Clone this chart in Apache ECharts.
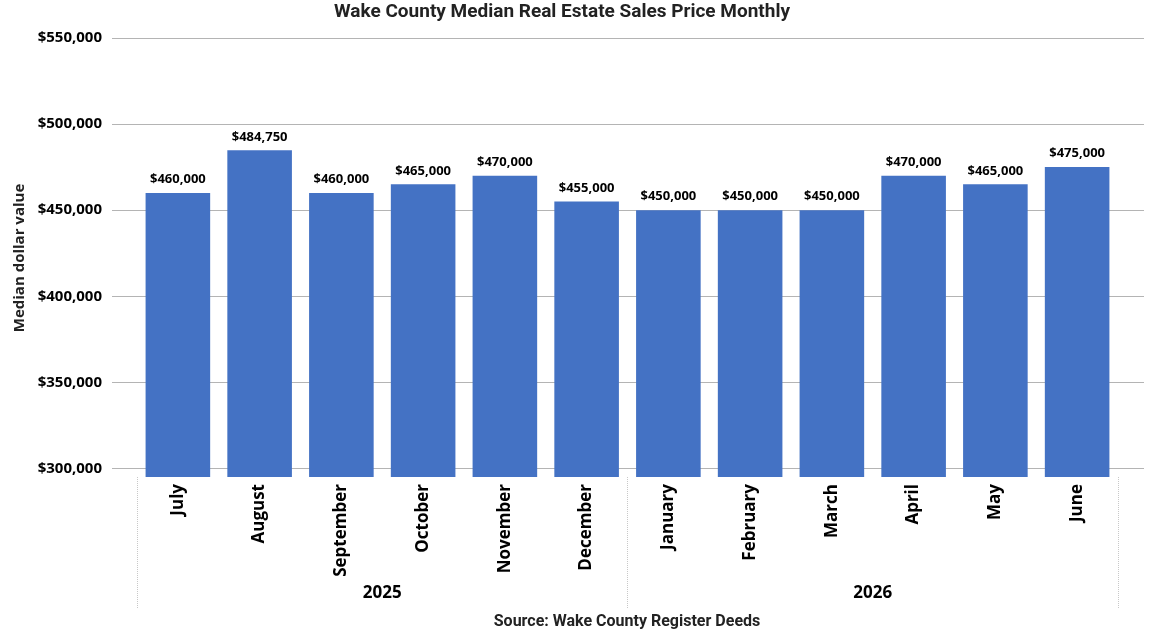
<!DOCTYPE html>
<html>
<head>
<meta charset="utf-8">
<script src="https://cdn.jsdelivr.net/npm/echarts@6/dist/echarts.min.js"></script>
<style>
  html, body { margin: 0; padding: 0; background: #fff; }
  #chart { width: 1154px; height: 633px; }
</style>
</head>
<body>
<div id="chart"></div>
<script>
// data
var months = ["July", "August", "September", "October", "November", "December",
              "January", "February", "March", "April", "May", "June"];
var years = ["2025", "2026"];
var prices = [460000, 484750, 460000, 465000, 470000, 455000,
              450000, 450000, 450000, 470000, 465000, 475000];
var yTicks = [300000, 350000, 400000, 450000, 500000, 550000];

var boldFont = "Open Sans";
var titleFont = "Roboto";

function money(v){
    return "$" + Number(v).toLocaleString("en-US");
}

var myChart = echarts.init(document.getElementById("chart"));

var option = {
    animation: false,
    backgroundColor: "#fff",
    // grid 0 carries the gridlines / tick labels, grid 1 the bars
    grid: [
        {left: 112, right: 10, top: 38, bottom: 156},
        {left: 137, right: 36, top: 38, bottom: 156}
    ],
    xAxis: [
        {gridIndex: 0, type: "category", data: [], show: false},
        {
            gridIndex: 1, type: "category", data: months, position: "bottom",
            axisLine: {show: false}, axisTick: {show: false},
            axisLabel: {interval: 0, rotate: 90, margin: 7, fontFamily: boldFont,
                        fontWeight: "bold", fontSize: 17, color: "#000"}
        },
        {
            gridIndex: 1, type: "category", data: years, position: "bottom",
            axisLine: {show: false},
            axisTick: {show: true, length: 131, interval: 0,
                       lineStyle: {color: "#c8c8c8", type: "dotted", width: 1}},
            axisLabel: {interval: 0, margin: 108, fontFamily: boldFont,
                        fontWeight: "bold", fontSize: 17, color: "#000"}
        }
    ],
    yAxis: [
        {
            gridIndex: 0, type: "value", min: 295000, max: 550000,
            axisLine: {show: false},
            axisTick: {show: false, customValues: yTicks},
            axisLabel: {customValues: yTicks, margin: 10, fontFamily: boldFont,
                        fontWeight: "bold", fontSize: 15, color: "#000",
                        formatter: money},
            splitLine: {show: true, lineStyle: {color: "#b4b4b4", width: 1}}
        },
        {
            gridIndex: 1, type: "value", min: 295000, max: 550000, show: false,
            splitLine: {show: false}
        }
    ],
    series: [{
        name: "Median price",
        type: "bar",
        xAxisIndex: 1,
        yAxisIndex: 1,
        data: prices,
        barCategoryGap: "21%",
        itemStyle: {color: "#4472c4"},
        label: {show: true, position: "top", distance: 7, fontFamily: boldFont,
                fontWeight: "bold", fontSize: 13, color: "#000",
                formatter: function(p){ return money(p.value); }}
    }],
    graphic: [
        {type: "text", x: 562, y: 12,
         style: {text: "Wake County Median Real Estate Sales Price Monthly",
                 font: "bold 19px " + titleFont, fill: "#222",
                 align: "center", verticalAlign: "middle"}},
        {type: "text", x: 20, y: 258, rotation: Math.PI / 2,
         style: {text: "Median dollar value", font: "bold 15px " + boldFont,
                 fill: "#222", align: "center", verticalAlign: "middle"}},
        {type: "text", x: 627, y: 622,
         style: {text: "Source: Wake County Register Deeds", font: "bold 16px " + titleFont,
                 fill: "#222", align: "center", verticalAlign: "middle"}}
    ]
};

myChart.setOption(option);
</script>
</body>
</html>
